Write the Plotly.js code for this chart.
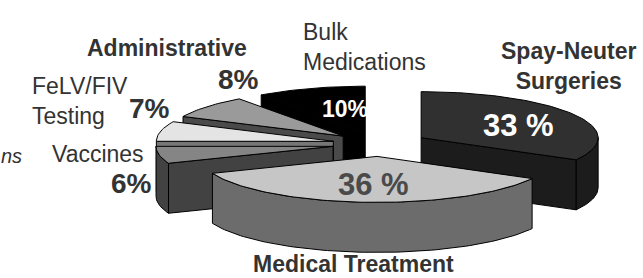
<!DOCTYPE html>
<html>
<head>
<meta charset="utf-8">
<script src="https://cdn.plot.ly/plotly-3.0.1.min.js"></script>
<style>html,body{margin:0;padding:0;background:#fff;}#chart{width:643px;height:278px;}</style>
</head>
<body>
<div id="chart"></div>
<script>
// ---- data ----
const categories = ['Spay-Neuter Surgeries', 'Medical Treatment', 'Vaccines', 'FeLV/FIV Testing', 'Administrative', 'Bulk Medications'];
const values = [33, 36, 6, 7, 8, 10];
const pctLabels = ['33 %', '36 %', '6%', '7%', '8%', '10%'];

// ---- styles ----
const topColors  = ['#303030', '#c6c6c6', '#858585', '#e4e4e4', '#9a9a9a', '#000000'];
const wallColors = ['#1c1c1c', '#6c6c6c', '#424242', '#767676', '#4a4a4a', '#000000'];

// ---- 3D pie geometry (projection parameters) ----
const CX = 380, CY = 144, RX = 177, RY = 46, EXPLODE = 0.27, DEPTH = 50, START = 90;
const rad = d => d * Math.PI / 180;
const total = values.reduce((a, b) => a + b, 0);

const slices = [];
let cum = 0;
values.forEach((v, i) => {
  const a1 = START - cum / total * 360;
  const a2 = START - (cum + v) / total * 360;
  cum += v;
  const mid = (a1 + a2) / 2;
  const ox = CX + EXPLODE * RX * Math.cos(rad(mid));
  const oy = CY - EXPLODE * RY * Math.sin(rad(mid));
  slices.push({i, a1, a2, mid, ox, oy});
});

function rimPt(s, ang, dz) {
  return [s.ox + RX * Math.cos(rad(ang)), s.oy - RY * Math.sin(rad(ang)) + dz];
}
function arc(s, from, to, dz) {
  const pts = [];
  const n = Math.max(2, Math.ceil(Math.abs(to - from) / 1.5));
  for (let k = 0; k <= n; k++) pts.push(rimPt(s, from + (to - from) * k / n, dz));
  return pts;
}
const traces = [];
function poly(pts, color) {
  const xs = pts.map(p => p[0]), ys = pts.map(p => p[1]);
  xs.push(xs[0]); ys.push(ys[0]);
  traces.push({type: 'scatter', mode: 'lines', x: xs, y: ys, fill: 'toself', fillcolor: color,
    line: {color: '#000', width: 1}, hoverinfo: 'skip', showlegend: false});
}

// back slices drawn first
const order = slices.slice().sort((p, q) => Math.sin(rad(q.mid)) - Math.sin(rad(p.mid)));
order.forEach(s => {
  const wc = wallColors[s.i], tc = topColors[s.i];
  const apexT = [s.ox, s.oy], apexB = [s.ox, s.oy + DEPTH];
  if (Math.cos(rad(s.a1)) < -1e-6) {
    poly([apexT, rimPt(s, s.a1, 0), rimPt(s, s.a1, DEPTH), apexB], wc);
  }
  if (Math.cos(rad(s.a2)) > 1e-6) {
    poly([apexT, rimPt(s, s.a2, 0), rimPt(s, s.a2, DEPTH), apexB], wc);
  }
  for (let k = -2; k <= 1; k++) {
    const lo = Math.max(s.a2, 360 * k - 180), hi = Math.min(s.a1, 360 * k);
    if (lo < hi) {
      poly(arc(s, lo, hi, 0).concat(arc(s, hi, lo, DEPTH)), wc);
    }
  }
  poly([apexT].concat(arc(s, s.a1, s.a2, 0)), tc);
});

const F = 'Liberation Sans, Arial, sans-serif';
const ann = (text, x, y, size, opts) => Object.assign({
  text, x, y, xref: 'x', yref: 'y', showarrow: false, xanchor: 'center', yanchor: 'middle',
  borderpad: 0, font: {family: F, size, color: '#333'}
}, opts || {});

const annotations = [
  ann('<b>' + categories[4] + '</b>', 167, 48, 23),
  ann('<b>' + pctLabels[4] + '</b>', 238, 79, 28),
  ann('Bulk<br>Medications', 302, 47, 23, {xanchor: 'left', align: 'left'}),
  ann('<b>' + pctLabels[5] + '</b>', 345, 109, 23, {font: {family: F, size: 23, color: '#fff'}}),
  ann('<b>Spay-Neuter<br>Surgeries</b>', 569, 66, 23, {align: 'center'}),
  ann('<b>' + pctLabels[0] + '</b>', 518, 125, 31, {font: {family: F, size: 31, color: '#fff'}}),
  ann('FeLV/FIV<br>Testing', 31, 101, 23, {xanchor: 'left', align: 'left'}),
  ann('<b>' + pctLabels[3] + '</b>', 149, 108, 28),
  ann(categories[2], 98, 154, 23),
  ann('<b>' + pctLabels[2] + '</b>', 131, 183, 28),
  ann('<i>ns</i>', 0, 156, 20, {xanchor: 'left'}),
  ann('<b>' + pctLabels[1] + '</b>', 373, 184, 31, {font: {family: F, size: 31, color: '#4a4a4a'}}),
  ann('<b>' + categories[1] + '</b>', 353, 278, 23, {yanchor: 'bottom'})
];

const layout = {
  width: 643, height: 278,
  margin: {l: 0, r: 0, t: 0, b: 0, pad: 0},
  paper_bgcolor: '#fff', plot_bgcolor: '#fff',
  xaxis: {range: [0, 643], visible: false, fixedrange: true},
  yaxis: {range: [278, 0], visible: false, fixedrange: true},
  annotations,
  showlegend: false
};
Plotly.newPlot('chart', traces, layout, {staticPlot: true, displayModeBar: false});
</script>
</body>
</html>
